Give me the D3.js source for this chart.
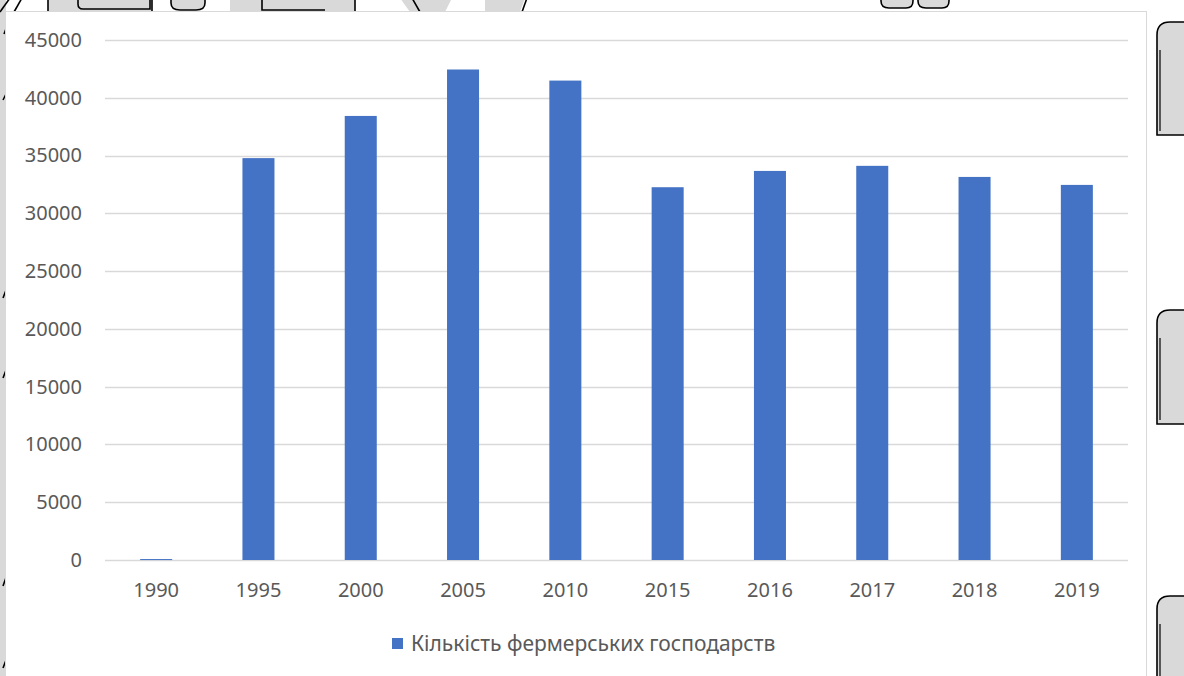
<!DOCTYPE html>
<html>
<head>
<meta charset="utf-8">
<script src="https://cdn.jsdelivr.net/npm/d3@7"></script>
<style>
  html, body { margin: 0; padding: 0; background: #ffffff; }
  svg { display: block; }
  text { font-family: "Noto Sans", "Open Sans", sans-serif; fill: #595959; }
</style>
</head>
<body>
<svg id="chart" width="1184" height="676"></svg>
<script>
// Number of farm enterprises by year
const years = ["1990", "1995", "2000", "2005", "2010", "2015", "2016", "2017", "2018", "2019"];
const farms = [82, 34778, 38428, 42447, 41488, 32260, 33670, 34110, 33150, 32460];
const yTicks = [0, 5000, 10000, 15000, 20000, 25000, 30000, 35000, 40000, 45000];
const seriesName = "Кількість фермерських господарств";

const W = 1184, H = 676;
const svg = d3.select("#chart");

// Page decoration around the chart frame
const deco = svg.append("g").attr("fill", "#d9d9d9").attr("stroke", "#000").attr("stroke-width", 1.6);
deco.append("rect").attr("x", -2).attr("y", -2).attr("width", 8).attr("height", H + 4).attr("stroke", "none");
[[0, 12, 10, -2], [14, 12, 22, -2]].forEach(([x1, y1, x2, y2]) =>
  deco.append("line").attr("x1", x1).attr("y1", y1).attr("x2", x2).attr("y2", y2));
deco.append("path").attr("d", "M48,-2 V12 H152 V-2 Z");
deco.append("path").attr("d", "M78,-2 V4 Q78,9 83,9 H150 V-2").attr("fill", "none");
deco.append("path").attr("d", "M171,-2 V3 Q171,10 180,10 H196 Q205,10 205,3 V-2");
deco.append("path").attr("d", "M230,-2 V12 H355 V-2 Z").attr("stroke", "none");
deco.append("path").attr("d", "M262,-2 V10 H325").attr("fill", "none");
deco.append("line").attr("x1", 355).attr("y1", -2).attr("x2", 355).attr("y2", 12);
deco.append("path").attr("d", "M400,-2 L410,12 L445,12 L452,-2 Z").attr("stroke", "none");
deco.append("path").attr("d", "M412,-2 L420,12 M500,12 L505,-2").attr("fill", "none");
deco.append("path").attr("d", "M485,-2 L485,12 L520,12 L525,-2 Z").attr("stroke", "none");
deco.append("path").attr("d", "M522,12 L527,-2").attr("fill", "none");
deco.append("path").attr("d", "M881,-2 V1 Q881,8 889,8 H906 Q913,8 913,1 V-2");
deco.append("path").attr("d", "M918,-2 V1 Q918,8 926,8 H942 Q949,8 949,1 V-2");
[[22, 135], [310, 424], [596, 700]].forEach(([t, b]) => {
  deco.append("path").attr("d", `M1190,${t} H1170 Q1157,${t} 1157,${t + 13} V${b} H1190 Z`);
  deco.append("path").attr("d", `M1160,${t + 28} V${b - 4}`).attr("fill", "none").attr("stroke-width", 1.2);
});
[[8, 90, 3, 100], [8, 285, 3, 298], [8, 365, 3, 378], [8, 572, 3, 586], [8, 655, 3, 668], [10, 18, 4, 34]]
  .forEach(([x1, y1, x2, y2]) => deco.append("line").attr("x1", x1).attr("y1", y1).attr("x2", x2).attr("y2", y2));

// Chart frame
svg.append("rect")
  .attr("x", 5.5).attr("y", 11.5).attr("width", 1141).attr("height", H + 10)
  .attr("fill", "#ffffff").attr("stroke", "#d9d9d9").attr("stroke-width", 1);

const plot = { left: 105, right: 1128, top: 40, bottom: 560 };

const x = d3.scaleBand()
  .domain(years)
  .range([plot.left, plot.right])
  .paddingInner(0.687)
  .paddingOuter(0.3435);

const y = d3.scaleLinear()
  .domain([0, 45000])
  .range([plot.bottom, plot.top]);

// Horizontal gridlines
svg.append("g")
  .selectAll("line")
  .data(yTicks)
  .join("line")
  .attr("x1", plot.left).attr("x2", plot.right)
  .attr("y1", d => Math.round(y(d)) + 0.5).attr("y2", d => Math.round(y(d)) + 0.5)
  .attr("stroke", "#d9d9d9").attr("stroke-width", 1.5);

// Y axis labels
const yAxis = svg.append("g")
  .attr("transform", `translate(${plot.left},0)`)
  .call(d3.axisLeft(y).tickValues(yTicks).tickSize(0).tickPadding(23).tickFormat(d3.format("d")));
yAxis.select(".domain").remove();
yAxis.selectAll("text").attr("font-size", 20).attr("fill", "#595959")
  .attr("font-family", "'Noto Sans', sans-serif");

// Bars
svg.append("g")
  .selectAll("rect")
  .data(years.map((yr, i) => ({ yr, v: farms[i] })))
  .join("rect")
  .attr("x", d => x(d.yr))
  .attr("width", x.bandwidth())
  .attr("y", d => y(d.v))
  .attr("height", d => Math.max(1, y(0) - y(d.v)))
  .attr("fill", "#4472c4");

// X axis labels
const xAxis = svg.append("g")
  .attr("transform", `translate(0,${plot.bottom})`)
  .call(d3.axisBottom(x).tickSize(0).tickPadding(23));
xAxis.select(".domain").remove();
xAxis.selectAll("text").attr("font-size", 20).attr("fill", "#595959")
  .attr("font-family", "'Noto Sans', sans-serif");

// Legend
const legend = svg.append("g").attr("transform", "translate(392,638)");
legend.append("rect").attr("width", 11).attr("height", 11).attr("fill", "#4472c4");
legend.append("text").attr("x", 19).attr("y", 13).attr("font-size", 21).text(seriesName);
</script>
</body>
</html>
